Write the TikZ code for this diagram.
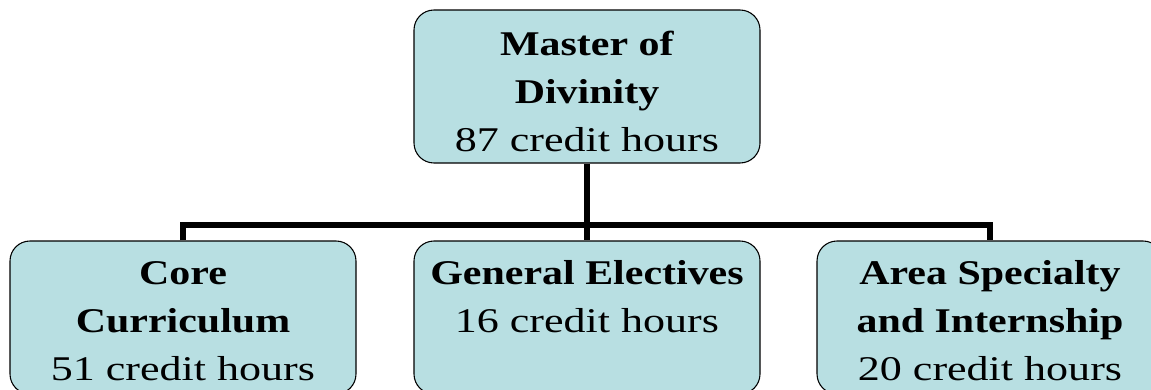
\documentclass[tikz,border=0pt]{standalone}
\usepackage{fontspec}
\setmainfont[FakeStretch=1.27,BoldFeatures={FakeStretch=1.21}]{Liberation Serif}
\definecolor{boxfill}{RGB}{184,223,226}
\tikzset{
  box/.style={draw=black, line width=0.8pt, fill=boxfill, rounded corners=15pt,
    minimum width=259.5pt, minimum height=114.75pt},
  txt/.style={align=center, anchor=base, inner sep=0pt,
    font=\fontsize{26pt}{36pt}\selectfont},
  conn/.style={line width=5pt}
}
\begin{document}
\begin{tikzpicture}[x=0.75pt, y=-0.75pt]
  \clip (0,0) rectangle (1151,389);
  % top
  \node[box] (mdiv) at (587,86.5) {};
  \node[txt] (mdivtxt) at (587,151) {\textbf{Master of}\\\textbf{Divinity}\\87 credit hours};
  % bottom row
  \node[box] (core) at (183,317.5) {};
  \node[box] (gen) at (587,317.5) {};
  \node[box] (area) at (990,317.5) {};
  \node[txt] (coretxt) at (183,380) {\textbf{Core}\\\textbf{Curriculum}\\51 credit hours};
  \node[txt] (gentxt) at (587,332) {\textbf{General Electives}\\16 credit hours};
  \node[txt] (areatxt) at (990,380) {\textbf{Area Specialty}\\\textbf{and Internship}\\20 credit hours};
  % connectors
  \coordinate (bus) at (587,225);
  \draw[conn] (mdiv.south) -- (bus);
  \draw[conn] (core.north) |- (bus) -| (area.north);
  \draw[conn] (bus) -- (gen.north);
\end{tikzpicture}
\end{document}
